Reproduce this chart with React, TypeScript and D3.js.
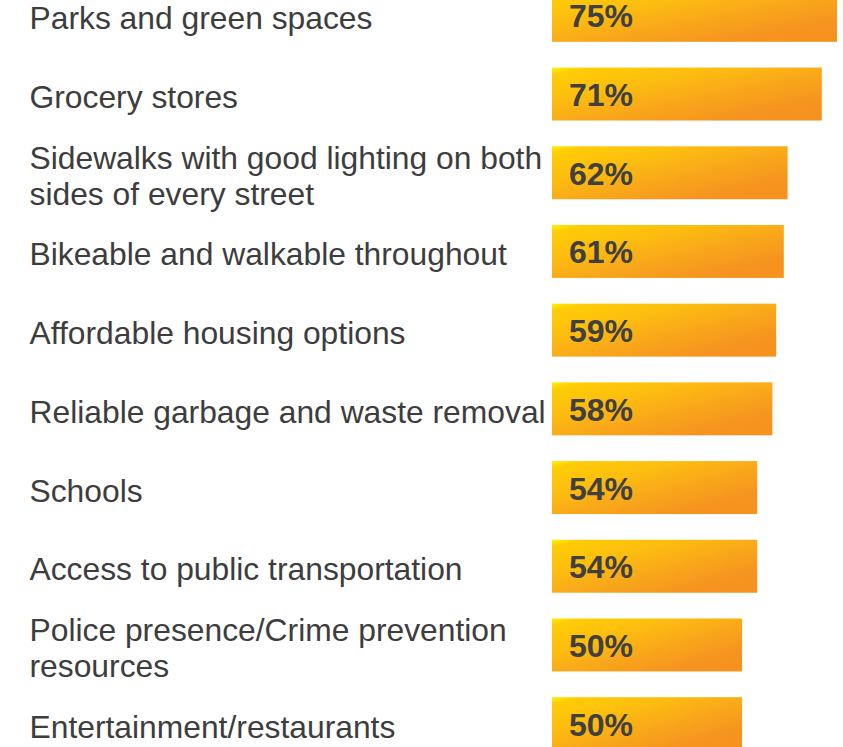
import React from "react";
import * as d3 from "d3";

const categories: string[] = [
  "Parks and green spaces",
  "Grocery stores",
  "Sidewalks with good lighting on both\nsides of every street",
  "Bikeable and walkable throughout",
  "Affordable housing options",
  "Reliable garbage and waste removal",
  "Schools",
  "Access to public transportation",
  "Police presence/Crime prevention\nresources",
  "Entertainment/restaurants",
];
const values: number[] = [75, 71, 62, 61, 59, 58, 54, 54, 50, 50];

const W = 843;
const H = 747;

export default function App() {
  const x = d3.scaleLinear().domain([0, 100]).range([552, 932]);
  const y = d3
    .scaleBand<string>()
    .domain(categories)
    .range([-24, -24 + 787])
    .paddingInner(0.327)
    .paddingOuter(0.1635);
  const bw = y.bandwidth();
  const font = "'Liberation Sans', Arial, sans-serif";
  return (
    <div style={{ position: "fixed", left: 0, top: 0, width: W, height: H, background: "#fff" }}>
      <svg width={W} height={H} style={{ display: "block" }}>
        <defs>
          <linearGradient id="barGrad" x1="0" y1="0" x2="1" y2="1">
            <stop offset="0" stopColor="#FFF200" />
            <stop offset="0.07" stopColor="#FFCD06" />
            <stop offset="0.3" stopColor="#FDBE0F" />
            <stop offset="0.55" stopColor="#F9A81A" />
            <stop offset="0.8" stopColor="#F6941F" />
            <stop offset="1" stopColor="#F6921E" />
          </linearGradient>
        </defs>
        {categories.map((c, i) => {
          const y0 = y(c) as number;
          const cy = y0 + bw / 2;
          const lines = c.split("\n");
          const lh = 36;
          return (
            <g key={c}>
              <rect x={x(0)} y={y0} width={x(values[i]) - x(0)} height={bw} fill="url(#barGrad)" />
              <text
                x={x(0) + 17}
                y={cy + 12}
                fontFamily={font}
                fontWeight="bold"
                fontSize={32}
                fill="#404040"
              >
                {values[i]}%
              </text>
              {lines.map((ln, j) => (
                <text
                  key={j}
                  x={29.5}
                  y={cy + 14 + (j - (lines.length - 1) / 2) * lh}
                  fontFamily={font}
                  fontSize={31.8}
                  fill="#3d3d3d"
                >
                  {ln}
                </text>
              ))}
            </g>
          );
        })}
      </svg>
    </div>
  );
}
